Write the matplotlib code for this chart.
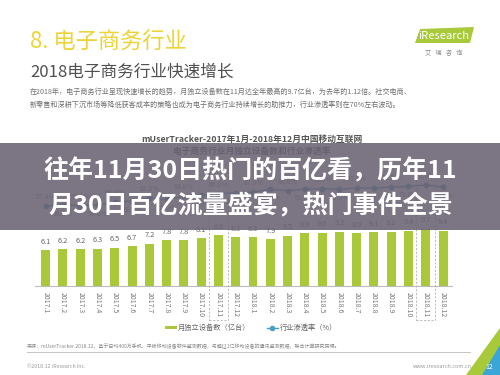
import matplotlib
matplotlib.use("Agg")
import matplotlib.pyplot as plt
from matplotlib.patches import Rectangle, Polygon
from matplotlib.lines import Line2D
import matplotlib.transforms as mtransforms

plt.rcParams['font.family'] = ['Noto Sans CJK SC', 'DejaVu Sans']

# ---------------- data ----------------
months = ['2017.1', '2017.2', '2017.3', '2017.4', '2017.5', '2017.6', '2017.7', '2017.8',
          '2017.9', '2017.10', '2017.11', '2017.12', '2018.1', '2018.2', '2018.3', '2018.4',
          '2018.5', '2018.6', '2018.7', '2018.8', '2018.9', '2018.10', '2018.11', '2018.12']
devices = [6.1, 6.2, 6.2, 6.3, 6.5, 6.7, 7.2, 7.8, 7.8, 8.1, 8.6, 8.3,
           8.3, 7.9, 8.5, 8.9, 9.0, 9.2, 8.9, 9.1, 9.2, 9.4, 9.7, 9.4]
penetration = [57.4, 58.1, 57.7, 58.0, 60.0, 61.0, 63.0, 62.0, 64.0, 65.0, 66.0, 66.5,
               67.0, 69.0, 68.0, 69.0, 69.5, 69.0, 70.0, 69.8, 70.5, 71.0, 72.0, 70.5]
highlight = ['2017.11', '2018.11']

title_main = '8. 电子商务行业'
title_sub = '2018电子商务行业快速增长'
para1 = '在2018年，电子商务行业呈现快速增长的趋势，月独立设备数在11月达全年最高的9.7亿台，为去年的1.12倍。社交电商、'
para2 = '新零售和深耕下沉市场等降低获客成本的策略也成为电子商务行业持续增长的助推力，行业渗透率则在70%左右波动。'
chart_title1 = 'mUserTracker-2017年1月-2018年12月中国移动互联网'
chart_title2 = '电子商务行业月独立设备数和行业渗透率'
legend_labels = ['月独立设备数（亿台）', '行业渗透率（%）']
source = '来源：mUserTracker.2018.12，基于日均400万手机、平板移动设备软件监测数据，与超过1亿移动设备的通讯监测数据，联合计算研究获得。'
copyright_txt = '©2018.12 iResearch Inc.'
website = 'www.iresearch.com.cn'
banner1 = '往年11月30日热门的百亿看，历年11'
banner2 = '月30日百亿流量盛宴，热门事件全景'

BAR = '#a9c93b'
LINE = '#4b9fc6'

W, H = 500, 375
fig = plt.figure(figsize=(5, 3.75), dpi=100)
fig.patch.set_facecolor('white')

# background / decoration axes in pixel coordinates
bg = fig.add_axes([0, 0, 1, 1], zorder=0)
bg.set_xlim(0, W); bg.set_ylim(H, 0); bg.axis('off')

bg.text(30, 42, title_main, fontsize=16, color='#ecd437', va='center', ha='left')
bg.text(30, 72, title_sub, fontsize=12, color='#505050', va='center', ha='left')
bg.text(30, 92, para1, fontsize=5.1, color='#707070', va='center', ha='left')
bg.text(30, 105, para2, fontsize=5.1, color='#707070', va='center', ha='left')

# logo
bg.add_patch(Polygon([[415, 43], [420, 29], [474, 27], [470, 43]], closed=True,
                     facecolor='#a7c93a', edgecolor='none'))
bg.text(444, 36, 'iResearch', fontsize=8, color='white', ha='center', va='center')
bg.text(444, 53, '艾   瑞   咨   询', fontsize=4.5, color='#888888', ha='center', va='center')

bg.text(252, 139, chart_title1, fontsize=6.3, color='#555555', fontweight='bold', ha='center', va='center')
bg.text(252, 151, chart_title2, fontsize=6.3, color='#555555', fontweight='bold', ha='center', va='center')

# footer
bg.text(27, 346, source, fontsize=3.6, color='#888888', ha='left', va='center')
bg.plot([27, 470], [352, 352], color='#bbbbbb', lw=0.6)
bg.text(27, 367, copyright_txt, fontsize=3.8, color='#999999', ha='left', va='center')
bg.text(413, 367, website, fontsize=4, color='#999999', ha='left', va='center')
bg.add_patch(Polygon([[500, 328], [500, 375], [466, 375]], closed=True, facecolor='#a7c93a', edgecolor='none'))
bg.add_patch(Polygon([[500, 345], [500, 375], [482, 375]], closed=True, facecolor='#3aa6d8', edgecolor='none'))
bg.text(489, 367, '12', fontsize=5, color='white', ha='center', va='center')

# ---------------- chart ----------------
x_left, x_right = 35, 452
y_base, y_top = 286, 168
ax = fig.add_axes([x_left / W, (H - y_base) / H, (x_right - x_left) / W, (y_base - y_top) / H], zorder=1)
ax.patch.set_alpha(0)
xs = list(range(len(months)))
ax.bar(xs, devices, width=0.52, color=BAR, zorder=2)
ax.set_xlim(-0.62, 23.52)
ax.set_ylim(0, 20)
for xi, v in zip(xs, devices):
    ax.text(xi, v + 0.75, f'{v:.1f}', ha='center', va='bottom', fontsize=5.3, color='#666666')
ax.set_xticks(xs)
ax.set_xticklabels(months, rotation=270, fontsize=5, color='#777777', va='top', ha='center')
ax.tick_params(axis='x', length=0, pad=4)
ax.set_yticks([])
for s in ['left', 'right', 'top']:
    ax.spines[s].set_visible(False)
ax.spines['bottom'].set_color('#bbbbbb')
ax.spines['bottom'].set_linewidth(0.8)

# dashed highlight boxes
trans = mtransforms.blended_transform_factory(ax.transData, ax.transAxes)
for m in highlight:
    i = months.index(m)
    ax.add_patch(Rectangle((i - 0.55, -0.29), 1.1, 1.32, transform=trans, fill=False,
                           edgecolor='#b0b0b0', lw=0.6, ls=(0, (2.5, 2)), clip_on=False, zorder=3))

ax2 = ax.twinx()
ax2.set_ylim(1.8, 83.8)
ax2.axis('off')
ax2.plot(xs, penetration, color=LINE, lw=1.0, marker='o', ms=3.2, zorder=3)
for i, (xi, v) in enumerate(zip(xs, penetration)):
    off = 3.5 if i % 2 == 0 else -3.5
    ax2.text(xi, v + off, f'{v:.1f}%', ha='center', va='bottom' if off > 0 else 'top',
             fontsize=5, color='#888888')

# legend
handles = [Rectangle((0, 0), 1, 1, facecolor=BAR, edgecolor='none'),
           Line2D([0], [0], color=LINE, lw=1.0, marker='o', ms=3)]
leg = fig.legend(handles, legend_labels, ncol=2, loc='center', bbox_to_anchor=(251 / W, 1 - 328 / H),
                 frameon=False, fontsize=5.2, handlelength=1.6, handleheight=0.35,
                 columnspacing=2.2, handletextpad=0.2, labelcolor='#666666')

# ---------------- banner overlay ----------------
ov = fig.add_axes([0, 0, 1, 1], zorder=5)
ov.set_xlim(0, W); ov.set_ylim(H, 0); ov.axis('off')
ov.patch.set_alpha(0)
ov.add_patch(Rectangle((0, 143), W, 87, facecolor='#6a6272', edgecolor='none', alpha=0.88))
ov.text(250, 171, banner1, fontsize=18, color='white', fontweight='bold', ha='center', va='center')
ov.text(251, 206, banner2, fontsize=18, color='white', fontweight='bold', ha='center', va='center')

fig.savefig('out.png', dpi=100, facecolor='white')
